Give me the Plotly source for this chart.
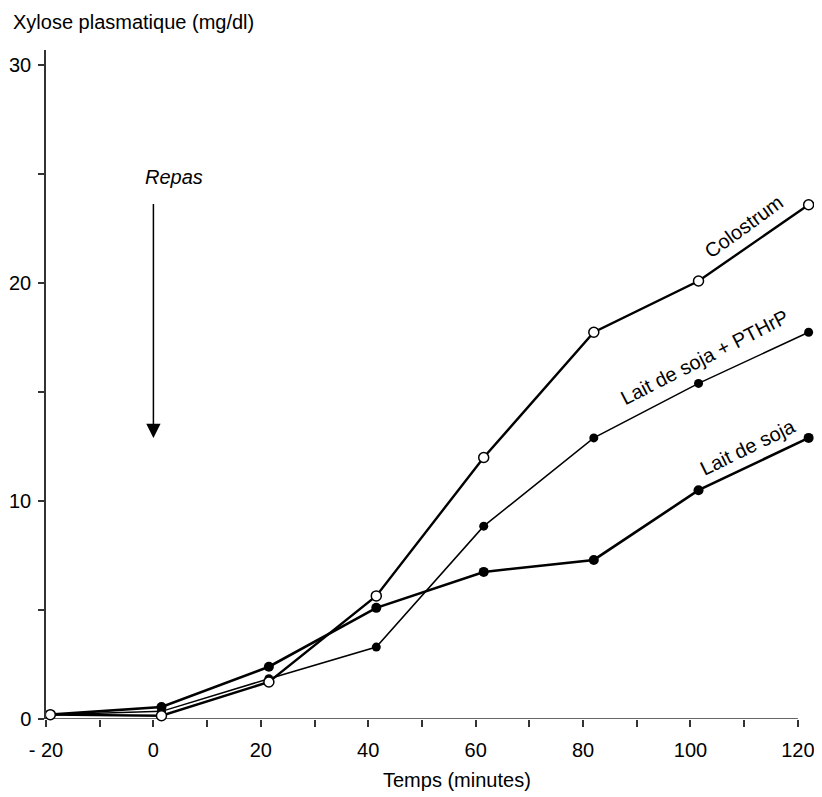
import plotly.graph_objects as go

# Data
times = [-19.2, 1.5, 21.5, 41.5, 61.5, 82.0, 101.5, 122.0]
colostrum = [0.2, 0.15, 1.7, 5.65, 12.0, 17.75, 20.1, 23.6]
soja_pthrp = [0.2, 0.35, 1.85, 3.3, 8.85, 12.9, 15.4, 17.75]
soja = [0.2, 0.55, 2.4, 5.1, 6.75, 7.3, 10.5, 12.9]

x_tickvals = [-20, -10, 0, 10, 20, 30, 40, 50, 60, 70, 80, 90, 100, 110, 120]
x_ticktext = ["- 20", "", "0", "", "20", "", "40", "", "60", "", "80", "", "100", "", "120"]
y_tickvals = [0, 5, 10, 15, 20, 25, 30]
y_ticktext = ["0", "", "10", "", "20", "", "30"]

FONT = "Liberation Sans, Arial, Helvetica, sans-serif"
FS = 20

fig = go.Figure()
fig.add_trace(go.Scatter(x=times, y=soja_pthrp, mode="lines+markers",
                         line=dict(color="black", width=1.5),
                         marker=dict(symbol="circle", size=9, color="black"),
                         cliponaxis=False, name="Lait de soja + PTHrP"))
fig.add_trace(go.Scatter(x=times, y=soja, mode="lines+markers",
                         line=dict(color="black", width=2.6),
                         marker=dict(symbol="circle", size=10, color="black"),
                         cliponaxis=False, name="Lait de soja"))
fig.add_trace(go.Scatter(x=times, y=colostrum, mode="lines+markers",
                         line=dict(color="black", width=2.4),
                         marker=dict(symbol="circle", size=10, color="white",
                                     line=dict(color="black", width=1.5)),
                         cliponaxis=False, name="Colostrum"))

# x axis line drawn from -20 to 120
fig.add_shape(type="line", xref="x", yref="y", x0=-20, x1=120, y0=0, y1=0,
              line=dict(color="#333", width=1.5), layer="below")

annos = [
    dict(x=109.8, y=22.6, text="Colostrum", textangle=-36),
    dict(x=102.7, y=16.6, text="Lait de soja + PTHrP", textangle=-27),
    dict(x=110.7, y=12.5, text="Lait de soja", textangle=-26),
    dict(x=3.8, y=24.85, text="<i>Repas</i>", textangle=0),
]
for a in annos:
    fig.add_annotation(xref="x", yref="y", showarrow=False,
                       font=dict(family=FONT, size=FS, color="black"), **a)

# Arrow "Repas"
fig.add_annotation(x=0, y=12.9, ax=0, ay=23.7, xref="x", yref="y",
                   axref="x", ayref="y", showarrow=True, arrowhead=2,
                   arrowsize=1.9, arrowwidth=1.5, arrowcolor="black", text="")

fig.add_annotation(xref="paper", yref="paper", x=-0.045, y=1.042,
                   xanchor="left", yanchor="middle", showarrow=False,
                   text="Xylose plasmatique (mg/dl)",
                   font=dict(family=FONT, size=FS, color="black"))
fig.add_annotation(xref="x", yref="paper", x=56.5, y=-0.091,
                   xanchor="center", yanchor="middle", showarrow=False,
                   text="Temps (minutes)",
                   font=dict(family=FONT, size=FS, color="black"))

fig.update_layout(
    template="none",
    width=814, height=789,
    margin=dict(l=38, r=8, t=42, b=78, pad=0),
    paper_bgcolor="white", plot_bgcolor="white",
    showlegend=False,
    font=dict(family=FONT, size=FS, color="black"),
    xaxis=dict(range=[-20, 123], tickmode="array", tickvals=x_tickvals,
               ticktext=x_ticktext, ticks="outside", ticklen=7, tickwidth=1.5,
               tickcolor="#333", showline=False, showgrid=False, zeroline=False,
               ticklabelstandoff=6, fixedrange=True, automargin=False),
    yaxis=dict(range=[0, 30.7], tickmode="array", tickvals=y_tickvals,
               ticktext=y_ticktext, ticks="outside", ticklen=6, tickwidth=1.5,
               tickcolor="#333", showline=True, linecolor="#333", linewidth=1.5,
               showgrid=False, zeroline=False, ticklabelstandoff=3, fixedrange=True,
               automargin=False),
)

fig.write_html("out.html")
